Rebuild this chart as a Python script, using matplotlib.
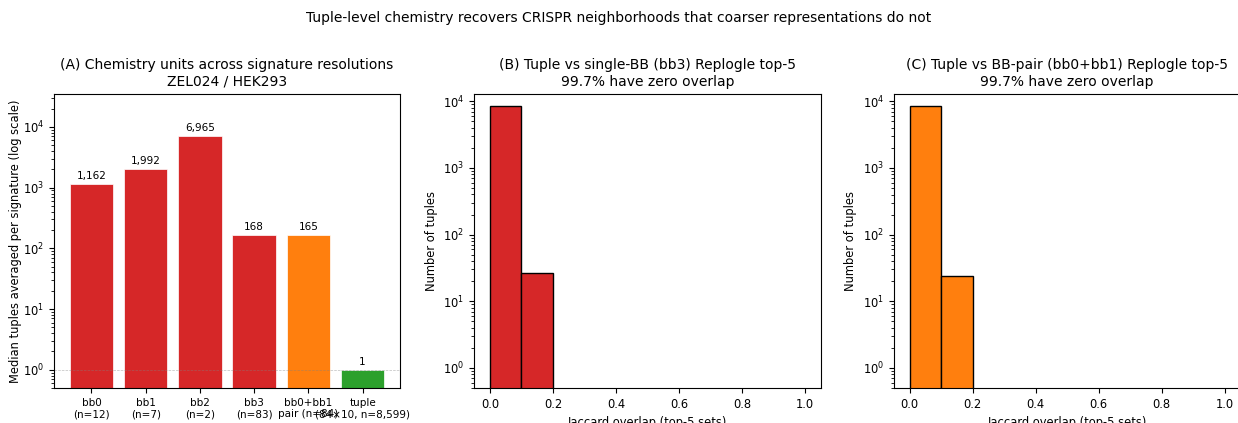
import matplotlib
matplotlib.use("Agg")
import matplotlib.pyplot as plt
import numpy as np

# panel A: median tuples averaged per signature
res_labels = ["bb0\n(n=12)", "bb1\n(n=7)", "bb2\n(n=2)", "bb3\n(n=83)",
              "bb0+bb1\npair (n=84)", "tuple\n(84\u00d710, n=8,599)"]
res_values = [1162, 1992, 6965, 168, 165, 1]
res_colors = ["#d62728", "#d62728", "#d62728", "#d62728", "#ff7f0e", "#2ca02c"]

# panels B, C: jaccard overlap histograms (10 bins on [0, 1])
bin_edges = np.linspace(0, 1, 11)
counts_bb3 = [8572, 27, 0, 0, 0, 0, 0, 0, 0, 0]
counts_pair = [8575, 24, 0, 0, 0, 0, 0, 0, 0, 0]

plt.rcParams["xtick.labelsize"] = 8.3
plt.rcParams["ytick.labelsize"] = 8.3

fig = plt.figure(figsize=(12.38, 4.23), dpi=100)
fig.suptitle("Tuple-level chemistry recovers CRISPR neighborhoods that coarser representations do not",
             fontsize=10, y=0.975)

axA = fig.add_axes([0.0436, 0.0827, 0.2795, 0.695])
axB = fig.add_axes([0.383, 0.0827, 0.280, 0.695])
axC = fig.add_axes([0.722, 0.0827, 0.280, 0.695])

x = np.arange(len(res_values))
bars = axA.bar(x, res_values, color=res_colors, edgecolor="white", linewidth=0.5)
axA.set_yscale("log")
axA.set_ylim(0.5, max(res_values) * 5)
axA.axhline(1, color="gray", ls="--", lw=0.5, alpha=0.5)
for b, v in zip(bars, res_values):
    axA.text(b.get_x() + b.get_width() / 2, v * 1.12, f"{v:,}", ha="center", va="bottom", fontsize=7.5)
axA.set_xticks(x)
axA.set_xticklabels(res_labels, fontsize=7.5)
axA.set_ylabel("Median tuples averaged per signature (log scale)", fontsize=8.3, labelpad=1)
axA.set_title("(A) Chemistry units across signature resolutions\nZEL024 / HEK293", fontsize=10)

centers = (bin_edges[:-1] + bin_edges[1:]) / 2
for ax, counts, col, ttl in [
        (axB, counts_bb3, "#d62728", "(B) Tuple vs single-BB (bb3) Replogle top-5"),
        (axC, counts_pair, "#ff7f0e", "(C) Tuple vs BB-pair (bb0+bb1) Replogle top-5")]:
    ax.hist(centers, bins=bin_edges, weights=counts, color=col, edgecolor="black")
    ax.set_yscale("log")
    ax.set_ylim(0.5, max(counts) * 1.5)
    ax.set_xlim(-0.05, 1.05)
    ax.set_xlabel("Jaccard overlap (top-5 sets)", fontsize=8.3)
    ax.set_ylabel("Number of tuples", fontsize=8.3)
    zero_pct = 100 * counts[0] / sum(counts)
    ax.set_title(f"{ttl}\n{zero_pct:.1f}% have zero overlap", fontsize=10)

fig.savefig("out.png", dpi=100)
